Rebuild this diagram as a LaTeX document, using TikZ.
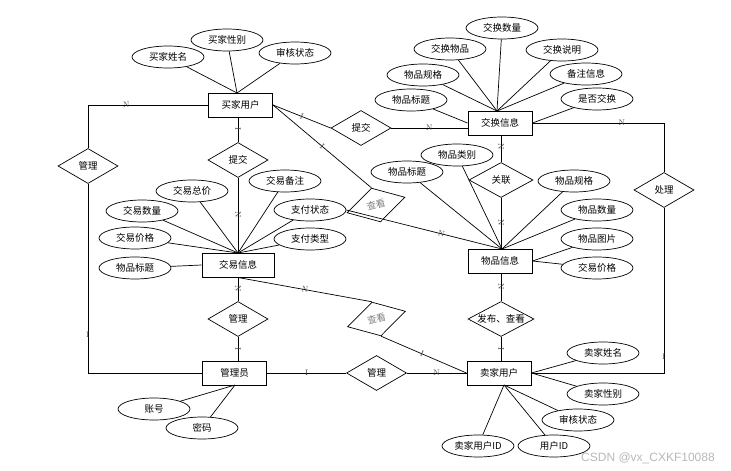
\documentclass[tikz,border=0pt]{standalone}
\usepackage{fontspec}
\newfontfamily\cjk{Noto Sans CJK SC}
\newfontfamily\wmfont{Liberation Sans}
\usetikzlibrary{shapes.geometric}
\newcommand\rt[1]{\makebox[0pt]{#1}}
\begin{document}
\begin{tikzpicture}[x=1pt,y=-1pt,
  ent/.style={draw, line width=1pt, minimum width=64pt, minimum height=24pt, inner sep=0pt, font=\cjk\fontsize{9.5}{10}\selectfont},
  attr/.style={draw, ellipse, line width=0.7pt, minimum width=72pt, minimum height=22pt, inner sep=0pt, font=\cjk\fontsize{9.5}{10}\selectfont},
  rel/.style={draw, diamond, aspect=1, line width=0.7pt, minimum width=60pt, minimum height=35pt, inner sep=0pt, font=\cjk\fontsize{9.5}{10}\selectfont},
  conn/.style={line width=0.7pt},
  card/.style={font=\fontsize{8}{8}\selectfont, text=darkgray, inner sep=0pt},
]
\useasboundingbox[fill=white] (0,0) rectangle (731,471);

% entities
\node[ent] (bu) at (240.5,105) {买家用户};
\node[ent] (jh) at (500,123) {交换信息};
\node[ent, minimum width=72pt] (jy) at (238,265) {交易信息};
\node[ent] (wp) at (500,261) {物品信息};
\node[ent] (gl) at (234.5,373) {管理员};
\node[ent] (mu) at (499,373) {卖家用户};

\coordinate (buT) at (237,93);
\coordinate (jhT) at (497,111);
\coordinate (jyT) at (238,253);
\coordinate (wpT) at (502,249);
\coordinate (muB) at (504,385);
\coordinate (glB) at (235,385);

% attributes of buyer
\node[attr] (b1) at (168,57) {买家姓名};
\node[attr] (b2) at (227,40) {买家性别};
\node[attr] (b3) at (295,53) {审核状态};
\foreach \a in {b1,b2,b3} \draw[conn] (\a) -- (buT);

% attributes of exchange info
\node[attr] (h1) at (502,28) {交换数量};
\node[attr] (h2) at (450,49) {交换物品};
\node[attr] (h3) at (562,50) {交换说明};
\node[attr] (h4) at (423,75) {物品规格};
\node[attr] (h5) at (586,74) {备注信息};
\node[attr] (h6) at (411,100) {物品标题};
\node[attr] (h7) at (597,99) {是否交换};
\foreach \a in {h1,h2,h3,h4,h5} \draw[conn] (\a) -- (jhT);
\draw[conn] (h6) -- (jh.west);
\draw[conn] (h7) -- (jh.east);

% attributes of trade info
\node[attr] (y1) at (192,191) {交易总价};
\node[attr] (y2) at (285,181) {交易备注};
\node[attr] (y3) at (142,211) {交易数量};
\node[attr] (y4) at (310,210) {支付状态};
\node[attr] (y5) at (135,238) {交易价格};
\node[attr] (y6) at (310,239) {支付类型};
\node[attr] (y7) at (135,268) {物品标题};
\foreach \a in {y1,y2,y3,y4,y5,y6} \draw[conn] (\a) -- (jyT);
\draw[conn] (y7) -- (jy.west);

% attributes of goods info
\node[attr] (w1) at (457,155) {物品类别};
\node[attr] (w2) at (407,172) {物品标题};
\node[attr] (w3) at (574,181) {物品规格};
\node[attr] (w4) at (597,210) {物品数量};
\node[attr] (w5) at (597,239) {物品图片};
\node[attr] (w6) at (597,268) {交易价格};
\foreach \a in {w1,w2,w3,w4} \draw[conn] (\a) -- (wpT);
\draw[conn] (w5) -- (wp.east);
\draw[conn] (w6) -- (wp.east);

% attributes of admin
\node[attr] (g1) at (154,409) {账号};
\node[attr] (g2) at (202,428) {密码};
\draw[conn] (g1) -- (glB);
\draw[conn] (g2) -- (glB);

% attributes of seller
\node[attr] (m1) at (603,353) {卖家姓名};
\node[attr] (m2) at (603,394) {卖家性别};
\node[attr] (m3) at (578,420) {审核状态};
\node[attr] (m4) at (478,446) {卖家用户ID};
\node[attr] (m5) at (554,446) {用户ID};
\draw[conn] (m1) -- (mu.east);
\draw[conn] (m2) -- (mu.east);
\foreach \a in {m3,m4,m5} \draw[conn] (\a) -- (muB);

% relationships
\node[rel] (gm1) at (88,166) {管理};
\node[rel] (tj2) at (238,160) {提交};
\node[rel] (tj) at (361,128) {提交};
\node[rel, rotate=15, text=gray] (ck1) at (376,205) {查看};
\node[rel, minimum width=64pt] (gx) at (501,180) {关联};
\node[rel] (cl) at (664,190) {处理};
\node[rel] (gm2) at (238,319) {管理};
\node[rel, rotate=15, text=gray] (ck2) at (376.5,319) {查看};
\node[rel, minimum width=66pt] (fb) at (501,319) {\rt{发布、查看}};
\node[rel] (gm3) at (376.5,373) {管理};

% connectors
\draw[conn] (bu.west) -| node[card, pos=0.34] {N} (gm1.north);
\draw[conn] (gm1.south) |- node[card, pos=0.4] {I} (gl.west);
\draw[conn] (tj2.north |- bu.south) -- node[card, sloped, pos=0.45] {I} (tj2.north);
\draw[conn] (tj2.south) -- node[card, sloped, pos=0.49] {N} (jyT);
\draw[conn] (bu.east) -- node[card, sloped, pos=0.5] {I} (tj.west);
\draw[conn] (tj.east) -- node[card, pos=0.5] {N} (tj.east -| jh.west);
\draw[conn] (bu.east) -- node[card, sloped, pos=0.5] {I} (ck1.north);
\draw[conn] (y4.east) -- node[card, sloped, pos=0.61] {N} (wpT);
\draw[conn] (gx.north |- jh.south) -- node[card, sloped, pos=0.43] {N} (gx.north);
\draw[conn] (gx.south) -- node[card, sloped, pos=0.49] {N} (gx.south |- wp.north);
\draw[conn] (jh.east) -| node[card, pos=0.34] {N} (cl.north);
\draw[conn] (cl.south) |- node[card, pos=0.45] {I} (mu.east);
\draw[conn] (gm2.north |- jy.south) -- node[card, sloped, pos=0.48] {N} (gm2.north);
\draw[conn] (gm2.south) -- node[card, sloped, pos=0.5] {I} (gm2.south |- gl.north);
\draw[conn] (jy.south) -- node[card, sloped, pos=0.5] {N} (ck2.north);
\draw[conn] (ck2.south) -- node[card, sloped, pos=0.48] {I} (mu.west);
\draw[conn] (fb.north |- wp.south) -- node[card, sloped, pos=0.48] {N} (fb.north);
\draw[conn] (fb.south) -- node[card, sloped, pos=0.5] {I} (fb.south |- mu.north);
\draw[conn] (gl.east) -- node[card, pos=0.5] {I} (gm3.west);
\draw[conn] (gm3.east) -- node[card, pos=0.5] {N} (mu.west);

% watermark
\node[font=\wmfont\fontsize{12}{12}\selectfont, text=gray!55, inner sep=0pt] (wm) at (648,458) {CSDN @vx\_CXKF10088};
\end{tikzpicture}
\end{document}
